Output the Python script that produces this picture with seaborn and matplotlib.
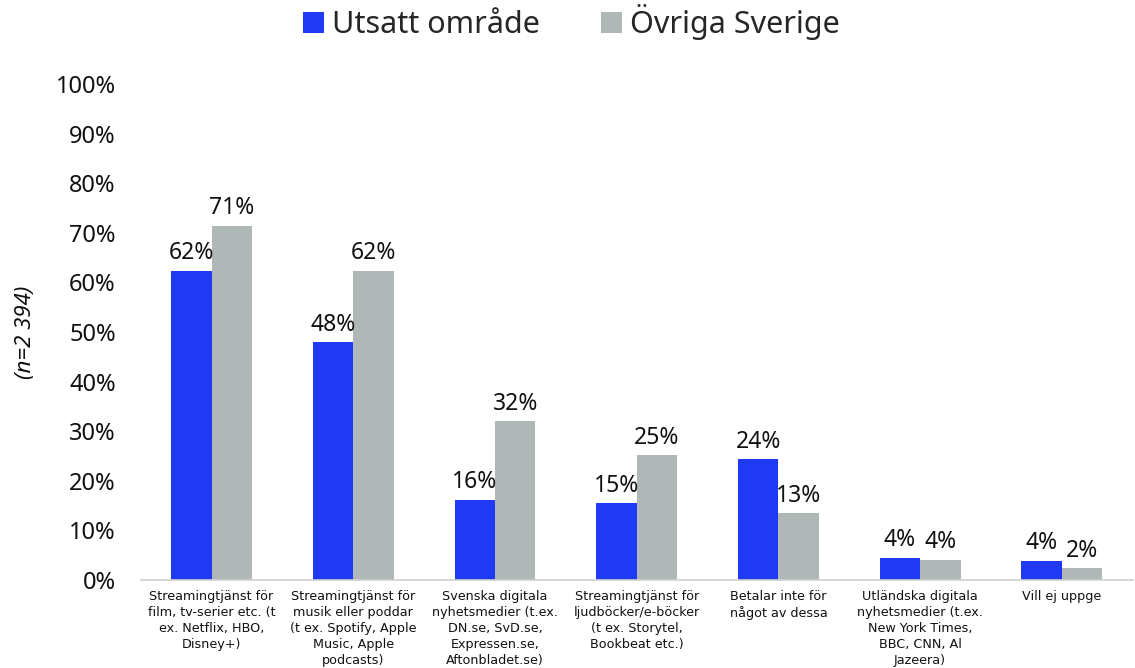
import pandas as pd
import numpy as np
import matplotlib
matplotlib.use("Agg")
import matplotlib.pyplot as plt
import seaborn as sns

categories = [
    "Streamingtjänst för\nfilm, tv-serier etc. (t\nex. Netflix, HBO,\nDisney+)",
    "Streamingtjänst för\nmusik eller poddar\n(t ex. Spotify, Apple\nMusic, Apple\npodcasts)",
    "Svenska digitala\nnyhetsmedier (t.ex.\nDN.se, SvD.se,\nExpressen.se,\nAftonbladet.se)",
    "Streamingtjänst för\nljudböcker/e-böcker\n(t ex. Storytel,\nBookbeat etc.)",
    "Betalar inte för\nnågot av dessa",
    "Utländska digitala\nnyhetsmedier (t.ex.\nNew York Times,\nBBC, CNN, Al\nJazeera)",
    "Vill ej uppge",
]
series_names = ["Utsatt område", "Övriga Sverige"]
utsatt = [62.4, 47.9, 16.1, 15.4, 24.3, 4.4, 3.8]
ovriga = [71.4, 62.4, 32.0, 25.1, 13.4, 4.0, 2.3]
colors = ["#2039F2", "#AFB7B7"]

df = pd.DataFrame({
    "category": categories * 2,
    "serie": [series_names[0]] * len(categories) + [series_names[1]] * len(categories),
    "value": utsatt + ovriga,
})

sns.set_style("white")
plt.rcParams["font.family"] = ["Noto Sans", "DejaVu Sans"]

fig = plt.figure(figsize=(11.35, 6.68), dpi=100)
ax = fig.add_axes([0.124, 0.132, 0.874, 0.742])

sns.barplot(data=df, x="category", y="value", hue="serie", palette=colors,
            width=0.57, saturation=1, linewidth=0, ax=ax, legend=True)

for cont in ax.containers:
    ax.bar_label(cont, labels=[f"{round(v)}%" for v in cont.datavalues],
                 fontsize=16.5, padding=4, color="#111111")

ax.set_ylim(0, 100)
ax.set_xlim(-0.5, len(categories) - 0.5)
ax.set_yticks(np.arange(0, 101, 10))
ax.set_yticklabels([f"{t}%" for t in range(0, 101, 10)], fontsize=17, color="#111111")
ax.tick_params(axis="y", length=0, pad=18)
ax.set_xticks(range(len(categories)))
ax.set_xticklabels(categories, fontsize=9.2, color="#111111", linespacing=1.3,
                   family=["DejaVu Sans"])
ax.tick_params(axis="x", which="major", length=0, pad=7)
ax.set_xticks(np.arange(-0.5, len(categories), 1), minor=True)
ax.tick_params(axis="x", which="minor", length=6, color="#D0D0D0", width=1)

for s in ["top", "right", "left"]:
    ax.spines[s].set_visible(False)
ax.spines["bottom"].set_color("#D0D0D0")
ax.spines["bottom"].set_linewidth(1.2)

ax.set_xlabel("")
ax.set_ylabel("(n=2 394)", fontsize=16, style="italic", color="#111111", labelpad=14)

handles, labels = ax.get_legend_handles_labels()
ax.get_legend().remove()
fig.legend(handles, labels, loc="upper center", bbox_to_anchor=(0.503, 1.035), ncol=2,
           frameon=False, fontsize=22, handlelength=0.7, handleheight=0.7,
           handletextpad=0.25, columnspacing=2.0)

fig.savefig("out.png", dpi=100)
